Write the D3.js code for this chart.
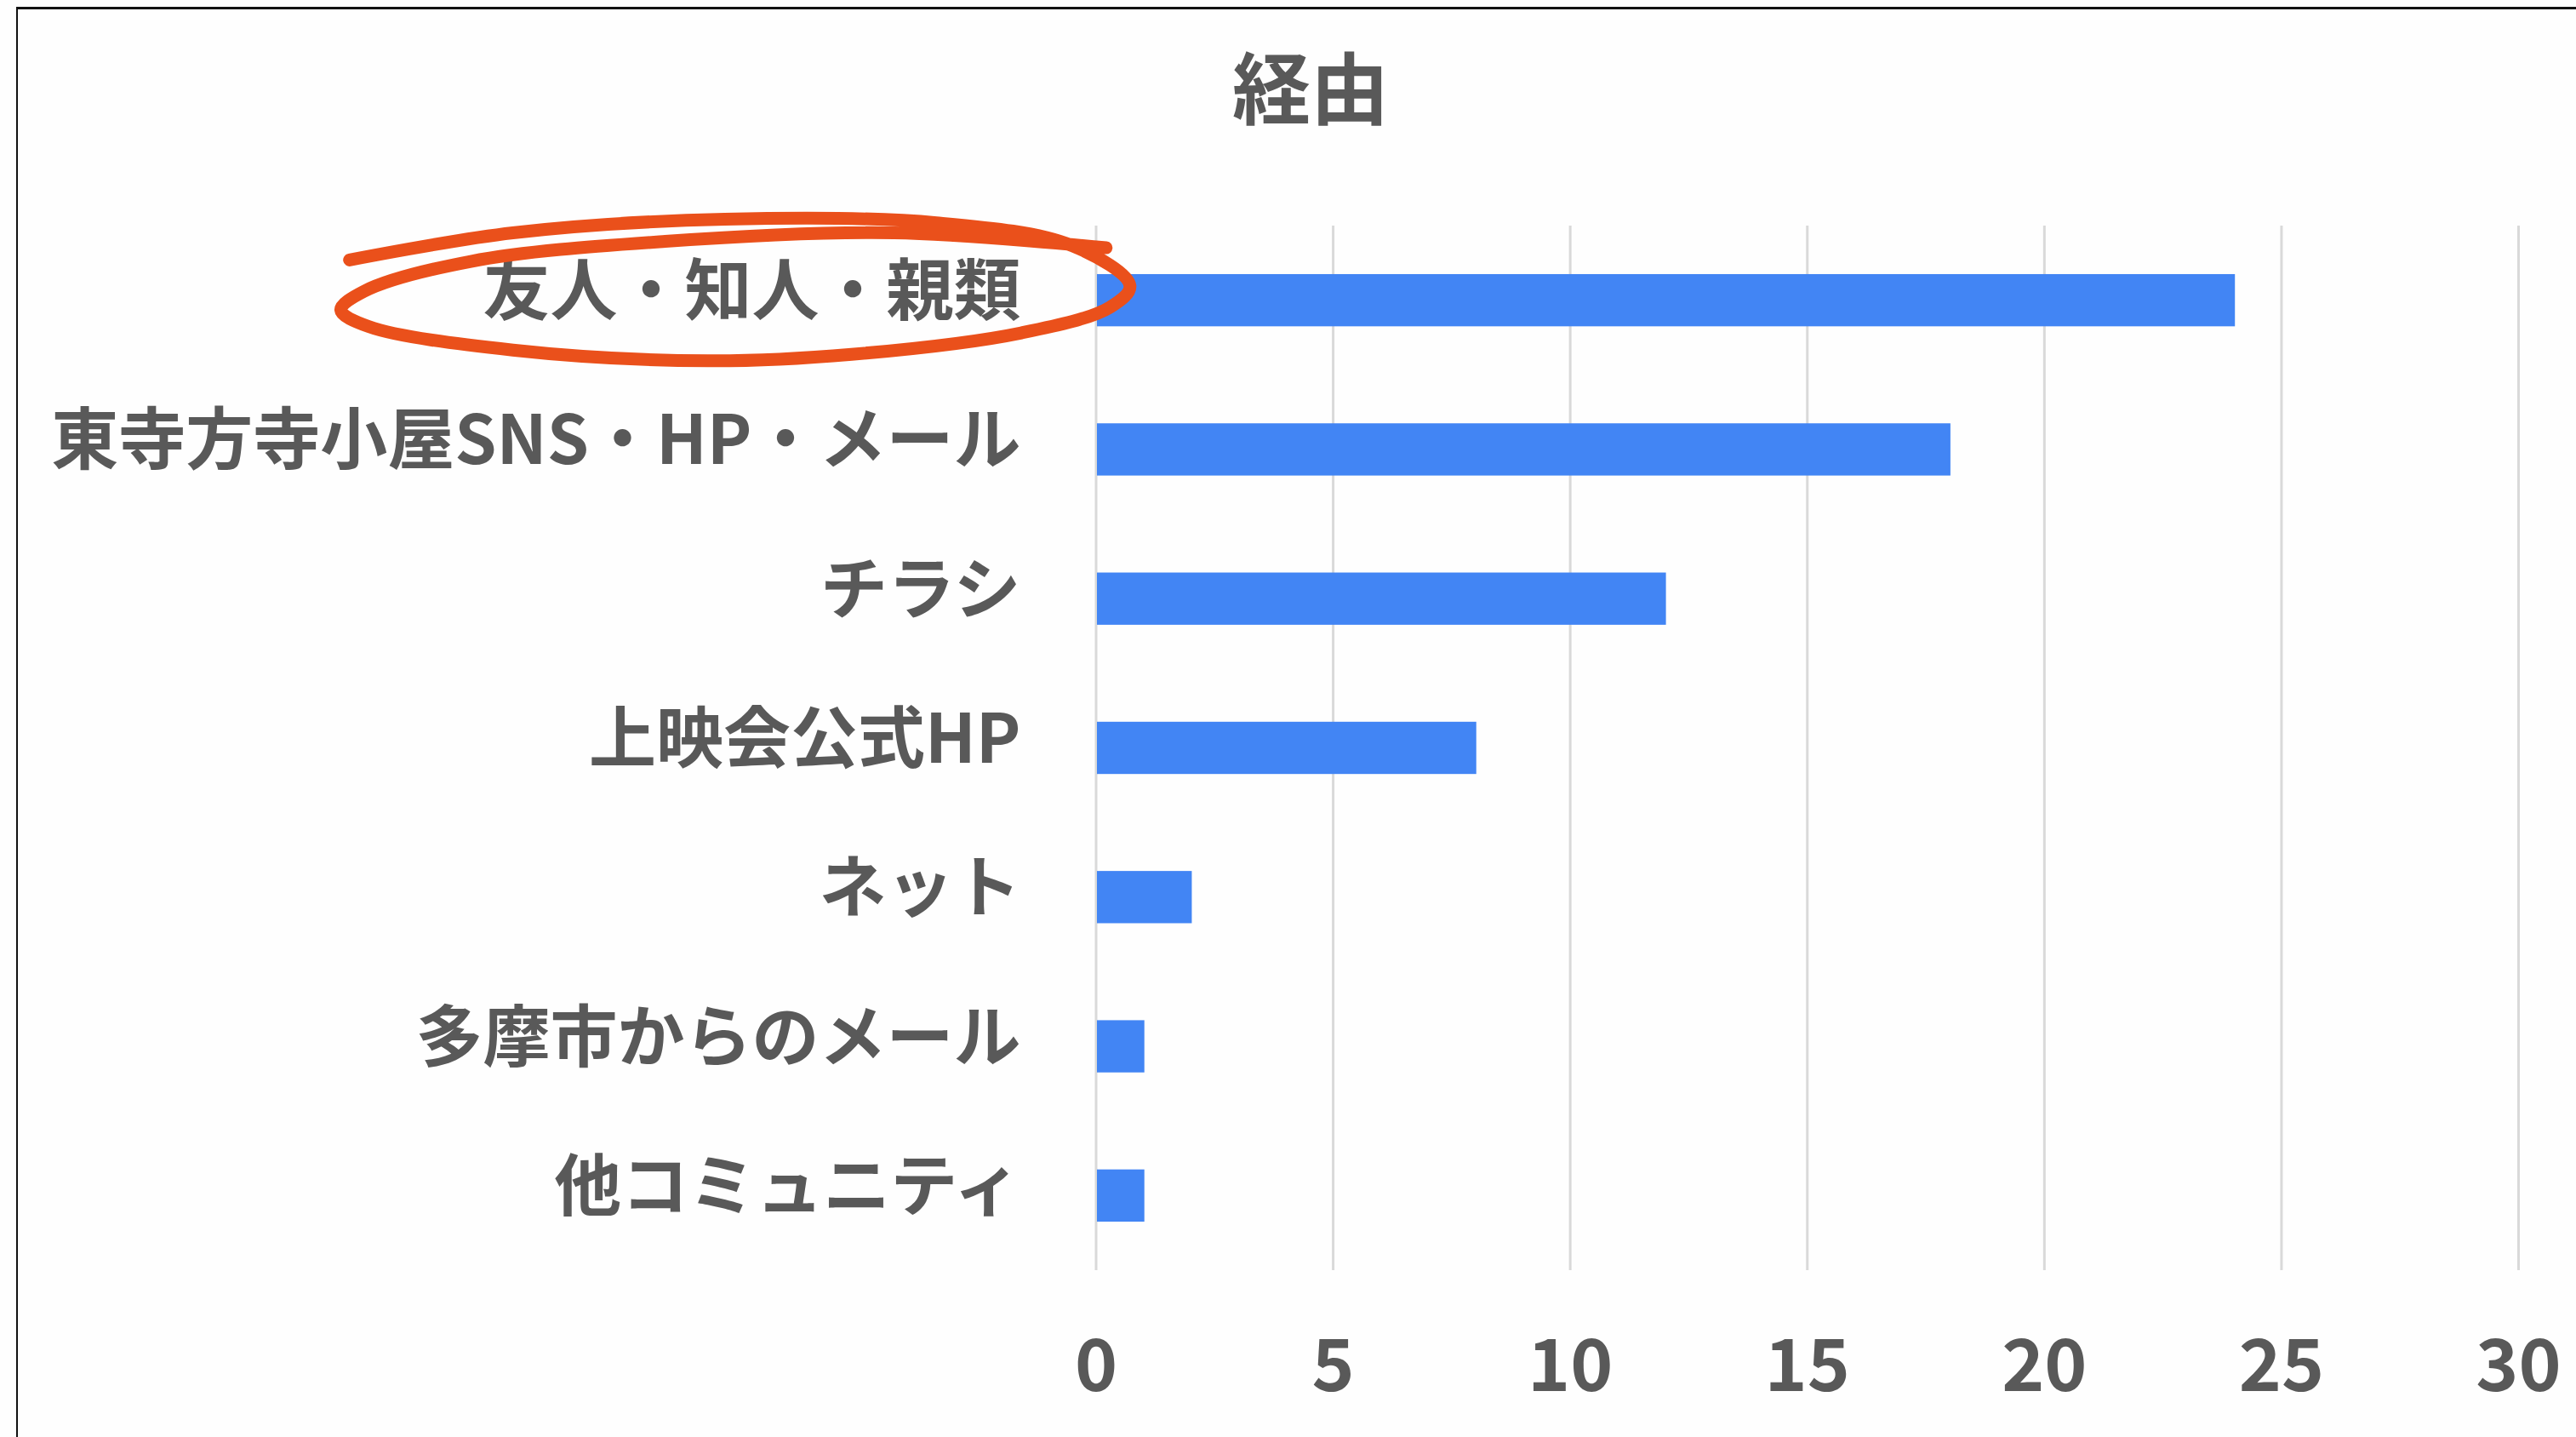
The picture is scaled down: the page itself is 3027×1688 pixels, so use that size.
<!DOCTYPE html>
<html>
<head>
<meta charset="utf-8">
<script src="https://cdn.jsdelivr.net/npm/d3@7"></script>
<style>
    body { margin: 0; background: #fefefe; }
    #chart { width: 3027px; height: 1688px; }
</style>
</head>
<body>
<div id="chart"></div>
<script>
// 数据
const chartTitle = '経由';
const categories = ['友人・知人・親類', '東寺方寺小屋SNS・HP・メール', 'チラシ', '上映会公式HP', 'ネット', '多摩市からのメール', '他コミュニティ'];
const counts = [24, 18, 12, 8, 2, 1, 1];
const tickValues = [0, 5, 10, 15, 20, 25, 30];
const highlighted = '友人・知人・親類';

class Bar {
    constructor(id) {
        this.id = id;
        this.width = 3027;
        this.height = 1688;
        this.margin = { top: 265, right: 68, bottom: 196, left: 1287.5 };
        this.font = '"Noto Sans CJK JP", "Noto Sans", sans-serif';
        this.textColor = '#595959';
        this.init();
        this.render();
    }
    init() {
        this.svg = d3.select(`#${this.id}`).append('svg')
            .attr('width', this.width)
            .attr('height', this.height)
            .attr('viewBox', `0 0 ${this.width} ${this.height}`)
            .style('font-family', this.font);
        this.innerWidth = this.width - this.margin.left - this.margin.right;
        this.innerHeight = this.height - this.margin.top - this.margin.bottom;
        // 外框
        this.svg.append('line')
            .attr('x1', 20).attr('x2', this.width).attr('y1', 9.5).attr('y2', 9.5)
            .attr('stroke', '#111').attr('stroke-width', 3);
        this.svg.append('line')
            .attr('x1', 20).attr('x2', 20).attr('y1', 8).attr('y2', this.height)
            .attr('stroke', '#111').attr('stroke-width', 2);
        this.mg = this.svg.append('g')
            .attr('transform', `translate(${this.margin.left},${this.margin.top})`);
        this.gridGroup = this.mg.append('g').attr('class', 'grid');
        this.rectGroup = this.mg.append('g').attr('class', 'rect-group');
        this.xAxis = this.mg.append('g').attr('class', 'x-axis');
        this.yAxis = this.mg.append('g').attr('class', 'y-axis');
        this.noteGroup = this.mg.append('g').attr('class', 'note');
    }
    render() {
        this.renderScale();
        this.renderTitle();
        this.renderGrid();
        this.renderRect();
        this.renderAxis();
        this.renderNote();
    }
    renderScale() {
        this.xScale = d3.scaleLinear()
            .domain([0, 30])
            .range([0, this.innerWidth]);
        this.yScale = d3.scaleBand()
            .domain(categories)
            .range([0, this.innerHeight])
            .paddingInner(0.65)
            .paddingOuter(0.325);
    }
    renderTitle() {
        this.svg.append('text')
            .attr('x', 1540)
            .attr('y', 98)
            .attr('text-anchor', 'middle')
            .attr('dominant-baseline', 'central')
            .attr('fill', this.textColor)
            .style('font-size', '92px')
            .style('font-weight', 700)
            .text(chartTitle);
    }
    renderGrid() {
        this.gridGroup
            .call(d3.axisBottom(this.xScale).tickValues(tickValues).tickSize(this.innerHeight).tickFormat(''))
            .call(g => g.select('.domain').remove())
            .call(g => g.selectAll('line').attr('stroke', '#d9d9d9').attr('stroke-width', 3));
    }
    renderRect() {
        this.rectGroup.selectAll('rect')
            .data(counts)
            .join('rect')
            .attr('x', this.xScale(0) + 1.5)
            .attr('y', (d, i) => this.yScale(categories[i]))
            .attr('width', d => this.xScale(d) - this.xScale(0))
            .attr('height', this.yScale.bandwidth())
            .attr('fill', '#4285f4');
    }
    renderAxis() {
        this.xAxis
            .attr('transform', `translate(0,${this.innerHeight})`)
            .call(d3.axisBottom(this.xScale).tickValues(tickValues).tickSize(0).tickPadding(0))
            .call(g => g.select('.domain').remove())
            .call(g => g.selectAll('text')
                .attr('y', 104)
                .attr('dy', null)
                .attr('dominant-baseline', 'central')
                .attr('fill', this.textColor)
                .style('font-family', this.font)
                .style('font-size', '85px')
                .style('font-weight', 700));

        this.yAxis
            .call(d3.axisLeft(this.yScale).tickSize(0).tickPadding(88))
            .call(g => g.select('.domain').remove())
            .call(g => g.selectAll('text')
                .attr('dy', -17)
                .attr('dominant-baseline', 'central')
                .attr('fill', this.textColor)
                .style('font-family', this.font)
                .style('font-size', '79px')
                .style('font-weight', 700));
    }
    renderNote() {
        // 手描きの丸: ラベル枠に対する相対位置
        const label = this.yAxis.selectAll('.tick')
            .filter(d => d === highlighted)
            .select('text').node();
        const box = label.getBBox();
        const cy = this.yScale(highlighted) + this.yScale.bandwidth() / 2 - 12;
        const x0 = box.x - 168, x1 = box.x + box.width + 132, ry = 84;
        const shape = [
            [0.012, -0.42], [0.218, -0.80], [0.485, -0.99], [0.752, -0.94], [0.923, -0.62],
            [0.996, -0.06], [0.971, 0.24], [0.859, 0.60], [0.645, 0.90], [0.464, 0.99],
            [0.218, 0.84], [0.036, 0.51], [0.001, 0.28], [0.03, 0.02], [0.165, -0.40],
            [0.41, -0.68], [0.699, -0.80], [0.966, -0.59]
        ];
        const line = d3.line()
            .x(d => x0 + d[0] * (x1 - x0))
            .y(d => cy + d[1] * ry)
            .curve(d3.curveCatmullRom.alpha(0.5));
        this.noteGroup.append('path')
            .attr('d', line(shape))
            .attr('fill', 'none')
            .attr('stroke', '#ea501b')
            .attr('stroke-width', 15)
            .attr('stroke-linecap', 'round')
            .attr('stroke-linejoin', 'round');
    }
}

new Bar('chart');
</script>
</body>
</html>
